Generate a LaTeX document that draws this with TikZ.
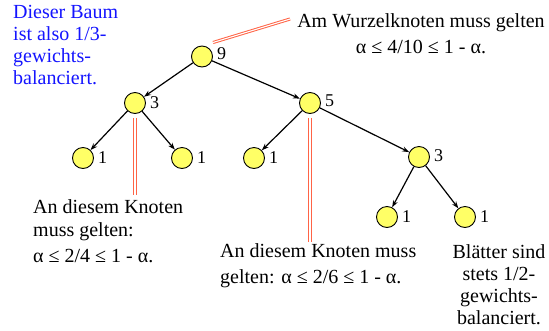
\documentclass[tikz,border=0pt]{standalone}
\usepackage{fontspec}
\setmainfont{Liberation Serif}
\usetikzlibrary{positioning,arrows.meta,calc}
\definecolor{knotgelb}{RGB}{255,255,102}
\definecolor{hinweisrot}{RGB}{255,100,70}
\definecolor{notizblau}{RGB}{20,20,255}

\begin{document}
\begin{tikzpicture}[>={Stealth[length=7pt,width=5pt]},
   every node/.style={font=\fontsize{20}{22}\selectfont},
   knot/.style={circle,draw,line width=0.9pt,fill=knotgelb,minimum size=21pt,
     inner sep=0pt,on grid},
   zahl/.style={font=\fontsize{18}{20}\selectfont,inner sep=0pt},
   kante/.style={->,line width=1.2pt},
   zeiger/.style={draw=hinweisrot,double=white,double distance=1.1pt,line width=1pt},
   notiz/.style={inner sep=0pt}]
  \useasboundingbox (0,0) rectangle (549pt,-330pt);
  % Baum
  \node[knot] (r) at (202pt,-56.5pt) {};
  \node[knot] (a) [below left=46.5pt and 67pt of r] {};
  \node[knot] (b) [below right=46.5pt and 108pt of r] {};
  \node[knot] (a1) [below left=55pt and 52pt of a] {};
  \node[knot] (a2) [below right=55pt and 47pt of a] {};
  \node[knot] (b1) [below left=55pt and 56pt of b] {};
  \node[knot] (b2) [below right=54pt and 109pt of b] {};
  \node[knot] (c1) [below left=60pt and 32pt of b2] {};
  \node[knot] (c2) [below right=60pt and 46pt of b2] {};
  % Gewichte
  \node[zahl] (zr) [right=4pt of r,yshift=3pt] {9};
  \node[zahl] (za) [right=4pt of a] {3};
  \node[zahl] (zb) [right=4pt of b,yshift=2pt] {5};
  \node[zahl] (za1) [right=4pt of a1] {1};
  \node[zahl] (za2) [right=4pt of a2] {1};
  \node[zahl] (zb1) [right=4pt of b1] {1};
  \node[zahl] (zb2) [right=4pt of b2,yshift=1pt] {3};
  \node[zahl] (zc1) [right=4pt of c1] {1};
  \node[zahl] (zc2) [right=4pt of c2] {1};
  \draw[kante] (r) -- (a);
  \draw[kante] (r) -- (b);
  \draw[kante] (a) -- (a1);
  \draw[kante] (a) -- (a2);
  \draw[kante] (b) -- (b1);
  \draw[kante] (b) -- (b2);
  \draw[kante] (b2) -- (c1);
  \draw[kante] (b2) -- (c2);
  % Texte
  \node[notiz,text=notizblau,align=left,anchor=north west] (tblau) at (13pt,-5.5pt)
    {Dieser Baum\\ist also 1/3-\\gewichts-\\balanciert.};
  \node[notiz,align=center,anchor=north] (twurzel) at (421pt,-13.3pt)
    {Am Wurzelknoten muss gelten\\[4pt]α ≤ 4/10 ≤ 1 - α.};
  \node[notiz,align=left,anchor=north west] (tlinks) at (33pt,-199.5pt)
    {An diesem Knoten\\[1pt]muss gelten:\\[4pt]α ≤ 2/4 ≤ 1 - α.};
  \node[notiz,align=left,anchor=north west] (tmitte) at (220pt,-243.3pt)
    {An diesem Knoten muss\\[4pt]gelten: α ≤ 2/6 ≤ 1 - α.};
  \node[notiz,align=center,anchor=north] (trechts) at (499pt,-244.5pt)
    {Blätter sind\\stets 1/2-\\gewichts-\\balanciert.};
  % Hinweislinien
  \coordinate (wurzelziel) at ($(twurzel.north west)+(-7pt,-5.7pt)$);
  \coordinate (linksziel) at (a |- tlinks.north);
  \coordinate (mitteziel) at (b |- tmitte.north);
  \draw[zeiger] ([shift={(11pt,14pt)}]r.center) -- (wurzelziel);
  \draw[zeiger,shorten <=4pt,shorten >=4.5pt] (a) -- (linksziel);
  \draw[zeiger,shorten <=4pt,shorten >=1.3pt] (b) -- (mitteziel);
\end{tikzpicture}
\end{document}
